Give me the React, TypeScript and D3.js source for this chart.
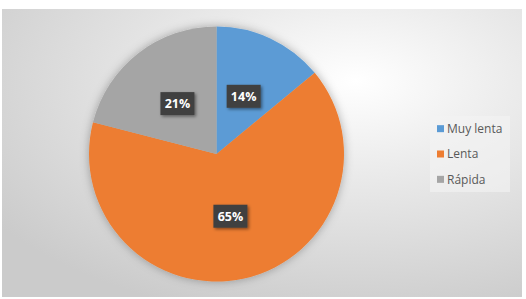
import React from "react";
import * as d3 from "d3";

const categories = ["Muy lenta", "Lenta", "Rápida"];
const values = [14, 65, 21];
const labels = ["14%", "65%", "21%"];
const colors = ["#5b9bd5", "#ed7d31", "#a5a5a5"];

const W = 526;
const H = 299;

export default function App() {
  const cx = 216.5;
  const cy = 154;
  const r = 127.5;
  const pie = d3.pie<number>().sort(null).value((d) => d)(values);
  const arc = d3.arc<d3.PieArcDatum<number>>().innerRadius(0).outerRadius(r);
  const labelArc = d3.arc<d3.PieArcDatum<number>>().innerRadius(r / 2).outerRadius(r / 2);

  const legendX = 430;
  const legendY = 116;
  const rowY = d3.scaleBand<string>().domain(categories).range([0, 76]).padding(0);

  return (
    <div style={{ position: "absolute", left: 0, top: 0, width: W, height: H }}>
      <svg width={W} height={H} style={{ display: "block" }}>
        <defs>
          <radialGradient id="bg" cx="0.68" cy="0.25" r="0.85" fx="0.68" fy="0.25">
            <stop offset="0" stopColor="#ffffff" />
            <stop offset="0.35" stopColor="#ececec" />
            <stop offset="1" stopColor="#cbcbcb" />
          </radialGradient>
          <filter id="pieShadow" x="-20%" y="-20%" width="140%" height="140%">
            <feDropShadow dx="0" dy="0" stdDeviation="5" floodColor="#000" floodOpacity="0.3" />
          </filter>
          <filter id="boxShadow" x="-30%" y="-30%" width="160%" height="160%">
            <feDropShadow dx="1.5" dy="1.5" stdDeviation="1.5" floodColor="#000" floodOpacity="0.45" />
          </filter>
        </defs>
        <rect x={0} y={0} width={W} height={H} fill="#ffffff" />
        <rect x={2} y={9} width={520} height={288} fill="url(#bg)" />
        <g transform={`translate(${cx},${cy})`}>
          <g filter="url(#pieShadow)">
            {pie.map((d, i) => (
              <path key={i} d={arc(d) || ""} fill={colors[i]} />
            ))}
          </g>
          {pie.map((d, i) => {
            const [lx, ly] = labelArc.centroid(d);
            return (
              <g key={"l" + i} transform={`translate(${lx},${ly})`}>
                <rect x={-17} y={-11.5} width={34} height={23} fill="#404040" filter="url(#boxShadow)" />
                <text
                  x={0}
                  y={0}
                  dy="0.36em"
                  textAnchor="middle"
                  fill="#ffffff"
                  fontFamily="'Open Sans', sans-serif"
                  fontWeight="bold"
                  fontSize={12.5}
                >
                  {labels[i]}
                </text>
              </g>
            );
          })}
        </g>
        <g transform={`translate(${legendX},${legendY})`}>
          <rect x={0} y={0} width={80} height={76} fill="#f3f3f3" opacity={0.6} />
          {categories.map((c, i) => {
            const y = (rowY(c) || 0) + rowY.bandwidth() / 2;
            return (
              <g key={c} transform={`translate(0,${y})`}>
                <rect x={7} y={-3.5} width={7} height={7} fill={colors[i]} />
                <text
                  x={17}
                  y={0}
                  dy="0.35em"
                  fill="#595959"
                  fontFamily="'Open Sans', sans-serif"
                  fontSize={12}
                >
                  {c}
                </text>
              </g>
            );
          })}
        </g>
      </svg>
    </div>
  );
}
